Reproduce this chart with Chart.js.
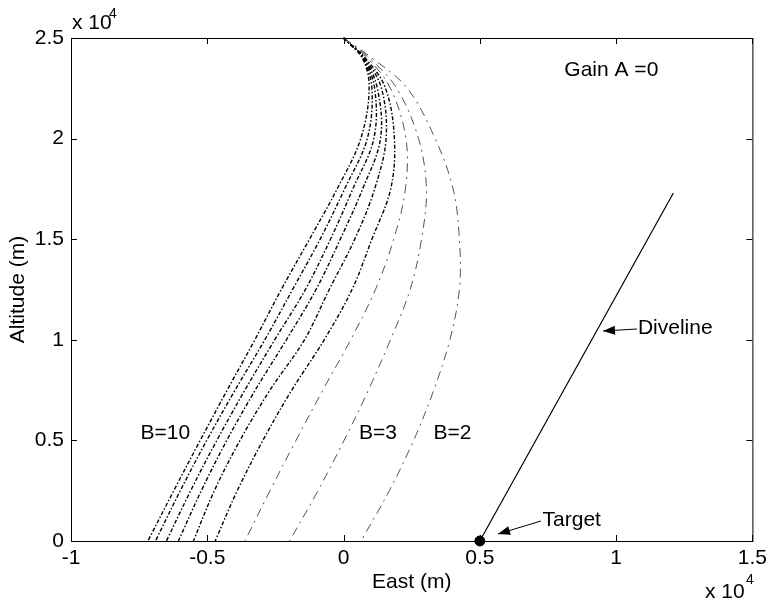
<!DOCTYPE html>
<html>
<head>
<meta charset="utf-8">
<script src="https://cdn.jsdelivr.net/npm/chart.js@4.4.0/dist/chart.umd.min.js"></script>
<style>
  body { margin: 0; background: #fff; }
</style>
</head>
<body>
<canvas id="chart" width="772" height="605"></canvas>
<script>
"use strict";

/* Data (metres) */
const altitude = [25000, 24000, 22500, 20000, 17500, 15000, 12500, 10000, 7500, 5000, 2500, 0];
const eastB2  = [0, 1050, 2340, 3360, 4020, 4250, 4250, 3900, 3310, 2570, 1680, 640];
const eastB3  = [0, 950, 1950, 2750, 3040, 2860, 2445, 1720, 910, 20, -940, -1980];
const eastB4  = [0, 880, 1720, 2290, 2270, 1840, 1170, 260, -760, -1745, -2700, -3620];
const eastB5  = [0, 800, 1540, 1865, 1730, 1040, 310, -710, -1900, -2960, -3900, -4710];
const eastB6  = [0, 760, 1390, 1560, 1140, 410, -525, -1435, -2700, -3800, -4740, -5510];
const eastB7  = [0, 740, 1240, 1355, 700, -120, -1010, -2100, -3240, -4285, -5220, -6060];
const eastB8  = [0, 720, 1140, 1110, 340, -480, -1400, -2527, -3620, -4650, -5610, -6500];
const eastB9  = [0, 700, 1040, 870, 40, -860, -1870, -2890, -3980, -5020, -5990, -6900];
const eastB10 = [0, 690, 940, 630, -235, -1250, -2285, -3255, -4270, -5260, -6230, -7180];

const divelineEast = [5000, 12100];
const divelineAlt = [0, 17300];
const targetEast = [5000];
const targetAlt = [0];

const xTicks = [-10000, -5000, 0, 5000, 10000, 15000];
const yTicks = [0, 5000, 10000, 15000, 20000, 25000];

const FONT = "'Liberation Sans', Arial, sans-serif";

function toPoints(xs, ys) {
  return xs.map((x, i) => ({ x: x, y: ys[i] }));
}

/* B=2..4 lighter long dash-dot, B=5..10 black short dash-dot */
function curve(label, xs, heavy) {
  return {
    label: label,
    data: toPoints(xs, altitude),
    showLine: true,
    borderColor: heavy ? "#000" : "#555",
    borderWidth: heavy ? 1.4 : 1,
    borderDash: heavy ? [4, 2, 1.5, 2] : [9, 5, 2, 5],
    pointRadius: 0,
    tension: 0.35,
    fill: false
  };
}

/* Box, inner ticks, exponent labels and annotations */
const matlabStyle = {
  id: "matlabStyle",
  afterDraw(chart) {
    const { ctx, chartArea: a, scales: { x, y } } = chart;
    ctx.save();
    ctx.strokeStyle = "#000";
    ctx.lineWidth = 1;
    ctx.strokeRect(a.left + 0.5, a.top + 0.5, a.right - a.left, a.bottom - a.top);

    const tl = 6;
    ctx.beginPath();
    xTicks.forEach(v => {
      const px = Math.round(x.getPixelForValue(v)) + 0.5;
      ctx.moveTo(px, a.bottom); ctx.lineTo(px, a.bottom - tl);
      ctx.moveTo(px, a.top); ctx.lineTo(px, a.top + tl);
    });
    yTicks.forEach(v => {
      const py = Math.round(y.getPixelForValue(v)) + 0.5;
      ctx.moveTo(a.left, py); ctx.lineTo(a.left + tl, py);
      ctx.moveTo(a.right, py); ctx.lineTo(a.right - tl, py);
    });
    ctx.stroke();

    // x 10^4 labels
    ctx.fillStyle = "#000";
    ctx.textBaseline = "alphabetic";
    ctx.textAlign = "left";
    ctx.font = "21px " + FONT;
    ctx.fillText("x 10", 72, 29);
    ctx.fillText("x 10", 705, 598);
    ctx.font = "14px " + FONT;
    ctx.fillText("4", 109, 18);
    ctx.fillText("4", 746, 584);

    // text annotations
    ctx.font = "21px " + FONT;
    ctx.textBaseline = "middle";
    const label = (t, ex, al) => ctx.fillText(t, x.getPixelForValue(ex), y.getPixelForValue(al));
    label("Gain A =0", 8100, 23400);
    label("B=10", -7450, 5370);
    label("B=3", 570, 5370);
    label("B=2", 3300, 5370);
    label("Diveline", 10800, 10600);
    label("Target", 7300, 1050);

    // arrows
    function arrow(x1, y1, x2, y2) {
      ctx.beginPath();
      ctx.moveTo(x1, y1); ctx.lineTo(x2, y2);
      ctx.stroke();
      const ang = Math.atan2(y2 - y1, x2 - x1);
      const len = 12, wid = 4.5;
      ctx.beginPath();
      ctx.moveTo(x2, y2);
      ctx.lineTo(x2 - len * Math.cos(ang) + wid * Math.sin(ang), y2 - len * Math.sin(ang) - wid * Math.cos(ang));
      ctx.lineTo(x2 - len * Math.cos(ang) - wid * Math.sin(ang), y2 - len * Math.sin(ang) + wid * Math.cos(ang));
      ctx.closePath();
      ctx.fill();
    }
    arrow(637, 329, 603, 331);
    arrow(541, 521, 498, 534);
    ctx.restore();
  }
};

const tickFont = { family: FONT, size: 21 };

new Chart(document.getElementById("chart"), {
  type: "scatter",
  data: {
    datasets: [
      curve("B=2", eastB2, false),
      curve("B=3", eastB3, false),
      curve("B=4", eastB4, false),
      curve("B=5", eastB5, true),
      curve("B=6", eastB6, true),
      curve("B=7", eastB7, true),
      curve("B=8", eastB8, true),
      curve("B=9", eastB9, true),
      curve("B=10", eastB10, true),
      {
        label: "Diveline",
        data: toPoints(divelineEast, divelineAlt),
        showLine: true,
        borderColor: "#000",
        borderWidth: 1.2,
        pointRadius: 0
      },
      {
        label: "Target",
        data: toPoints(targetEast, targetAlt),
        pointRadius: 5,
        pointBackgroundColor: "#000",
        pointBorderColor: "#000"
      }
    ]
  },
  options: {
    responsive: false,
    animation: false,
    clip: false,
    layout: { padding: { left: 0, top: 38, right: 16, bottom: 0 } },
    plugins: { legend: { display: false }, tooltip: { enabled: false } },
    scales: {
      x: {
        type: "linear",
        min: -10000,
        max: 15000,
        grid: { display: false, drawTicks: false },
        border: { display: false },
        afterBuildTicks: s => { s.ticks = xTicks.map(v => ({ value: v })); },
        afterFit: s => { s.height = 64; },
        ticks: {
          autoSkip: false,
          maxRotation: 0,
          padding: 5,
          color: "#000",
          font: tickFont,
          callback: v => String(v / 10000)
        },
        title: {
          display: true,
          text: "East (m)",
          color: "#000",
          font: tickFont,
          padding: { top: 0, bottom: 10 }
        }
      },
      y: {
        type: "linear",
        min: 0,
        max: 25000,
        grid: { display: false, drawTicks: false },
        border: { display: false },
        afterBuildTicks: s => { s.ticks = yTicks.map(v => ({ value: v })); },
        afterFit: s => { s.width = 71; },
        ticks: {
          padding: 7,
          color: "#000",
          font: tickFont,
          callback: v => String(v / 10000)
        },
        title: {
          display: true,
          text: "Altitude (m)",
          color: "#000",
          font: tickFont,
          padding: { top: 6, bottom: 0 }
        }
      }
    }
  },
  plugins: [matlabStyle]
});
</script>
</body>
</html>
